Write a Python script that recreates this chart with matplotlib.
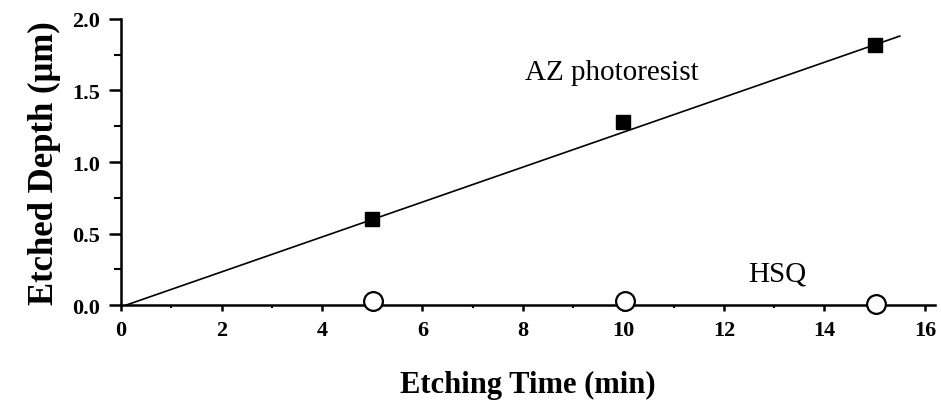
import matplotlib
matplotlib.use("Agg")
import matplotlib.pyplot as plt
from matplotlib.ticker import MultipleLocator

# Data
az_time = [5, 10, 15]
az_depth = [0.60, 1.28, 1.82]
hsq_time = [5.02, 10.03, 15.02]
hsq_depth = [0.03, 0.03, 0.01]
fit_time = [0.1, 15.5]
fit_depth = [0.0, 1.88]
x_ticks = [0, 2, 4, 6, 8, 10, 12, 14, 16]
y_ticks = [0.0, 0.5, 1.0, 1.5, 2.0]

plt.rcParams['font.family'] = ['Liberation Serif', 'DejaVu Serif']

fig = plt.figure(figsize=(9.41, 4.06), dpi=100)
ax = fig.add_axes([0.1286, 0.246, 0.8650, 0.705])

ax.plot(fit_time, fit_depth, color='black', lw=1.2, zorder=2)
ax.plot(az_time, az_depth, ls='none', marker='s', ms=9.5, color='black', zorder=3)
ax.plot(hsq_time, hsq_depth, ls='none', marker='o', ms=13.5, mfc='white', mec='black', mew=1.6,
        zorder=3, clip_on=False)

ax.set_xlim(0, 16.2)
ax.set_ylim(0, 2.0)
ax.set_xticks(x_ticks)
ax.set_yticks(y_ticks)
ax.set_xticklabels([str(t) for t in x_ticks])
ax.set_yticklabels([f"{t:.1f}" for t in y_ticks])
ax.xaxis.set_minor_locator(MultipleLocator(1))
ax.yaxis.set_minor_locator(MultipleLocator(0.25))

for s in ['top', 'right']:
    ax.spines[s].set_visible(False)
for s in ['left', 'bottom']:
    ax.spines[s].set_linewidth(1.8)

ax.tick_params(axis='y', which='major', direction='out', length=9, width=1.8,
               labelsize=16, pad=6)
ax.tick_params(axis='y', which='minor', direction='out', length=5, width=1.5)
ax.tick_params(axis='x', which='major', direction='out', length=4, width=1.8,
               labelsize=16, pad=7)
ax.tick_params(axis='x', which='minor', direction='out', length=2, width=1.5)
for lab in ax.get_xticklabels() + ax.get_yticklabels():
    lab.set_fontweight('bold')

ax.set_xlabel('Etching Time (min)', fontsize=22, fontweight='bold', labelpad=21)
ax.set_ylabel('Etched Depth (μm)', fontsize=25, fontweight='bold', labelpad=8)

ax.text(8.04, 1.58, 'AZ photoresist', fontsize=21, ha='left', va='baseline')
ax.text(12.48, 0.17, 'HSQ', fontsize=21, ha='left', va='baseline')

fig.savefig('out.png', dpi=100, facecolor='white')
